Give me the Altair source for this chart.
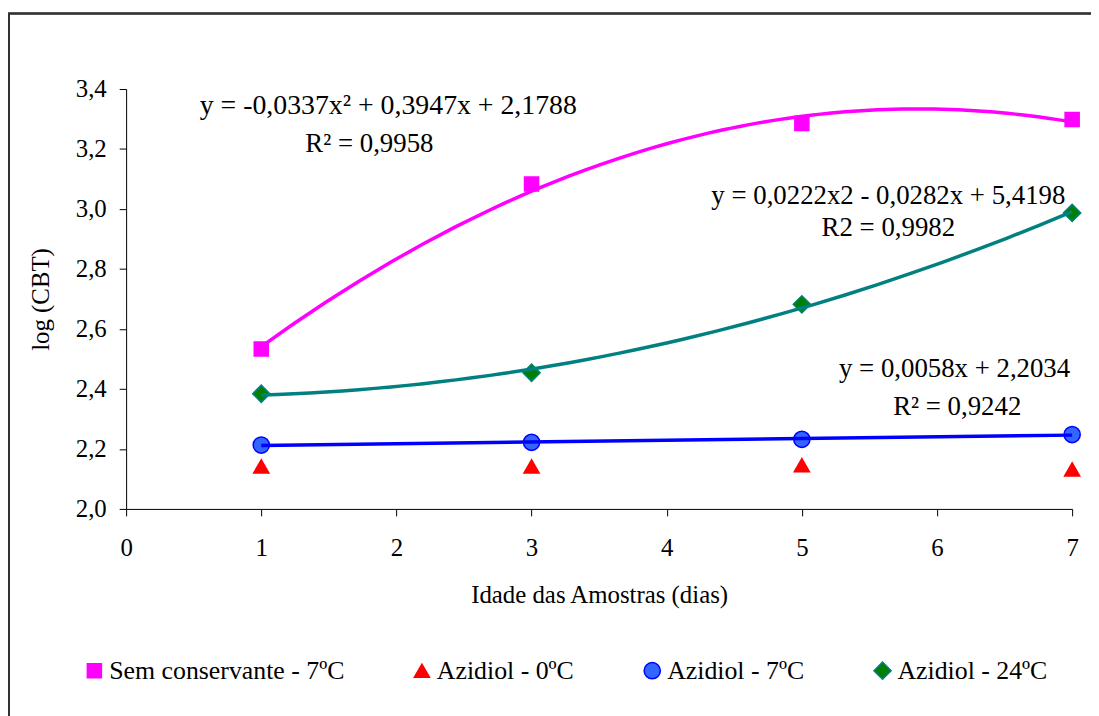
import altair as alt
import pandas as pd

# ---- data ----
dias = [1, 3, 5, 7]
series_names = ["Sem conservante - 7ºC", "Azidiol - 0ºC", "Azidiol - 7ºC", "Azidiol - 24ºC"]
sem_conservante_7 = [2.533, 3.083, 3.285, 3.298]
azidiol_0 = [2.142, 2.142, 2.146, 2.132]
azidiol_7 = [2.213, 2.222, 2.232, 2.248]
azidiol_24 = [2.384, 2.454, 2.682, 2.987]

fills = ["#FF00FF", "#FF0000", "#3366FF", "#008000"]
strokes = ["#FF00FF", "#FF0000", "#0000FF", "#008080"]
shapes = ["square", "triangle-up", "circle", "diamond"]
sizes = [200, 300, 290, 270]

# equation labels (data coords)
ann_text = ["y = -0,0337x² + 0,3947x + 2,1788", "R² = 0,9958",
            "y = 0,0222x2 - 0,0282x + 5,4198", "R2 = 0,9982",
            "y = 0,0058x + 2,2034", "R² = 0,9242"]
ann_x = [1.94, 1.80, 5.64, 5.64, 6.13, 6.15]
ann_y = [3.344, 3.215, 3.043, 2.937, 2.467, 2.341]
ann_size = [28, 27, 27, 27, 27, 27]

y_ticks = [2.0, 2.2, 2.4, 2.6, 2.8, 3.0, 3.2, 3.4]
x_ticks = [0, 1, 2, 3, 4, 5, 6, 7]

rows = []
for name, vals in zip(series_names, [sem_conservante_7, azidiol_0, azidiol_7, azidiol_24]):
    for d, v in zip(dias, vals):
        rows.append({"serie": name, "dia": d, "log": v})
df = pd.DataFrame(rows)
ann = pd.DataFrame({"t": ann_text, "x": ann_x, "y": ann_y, "fs": ann_size})

FONT = "Liberation Serif"
FS = 25
W, H = 953, 423

xscale = alt.Scale(domain=[0, 7], nice=False)
yscale = alt.Scale(domain=[2.0, 3.4], nice=False, zero=False)

xaxis = alt.Axis(values=x_ticks, format="d", title="Idade das Amostras (dias)",
                 grid=False, tickSize=7, labelPadding=20, titlePadding=22,
                 domainColor="black", tickColor="black", labelFlush=False)
yaxis = alt.Axis(values=y_ticks, title="log (CBT)",
                 labelExpr="replace(format(datum.value, '.1f'), '.', ',')",
                 grid=False, tickSize=7, labelPadding=13, titlePadding=22,
                 domainColor="black", tickColor="black")

leg = alt.Legend(orient="none", legendX=-45, legendY=573, direction="horizontal",
                 columnPadding=65, labelOffset=2,
                 symbolStrokeWidth=1.5, labelFont=FONT,
                 labelFontSize=26, labelColor="black", labelLimit=400)

base = alt.Chart(df)

points = base.mark_point(filled=True, strokeWidth=1.5, opacity=1).encode(
    x=alt.X("dia:Q", scale=xscale, axis=xaxis),
    y=alt.Y("log:Q", scale=yscale, axis=yaxis),
    fill=alt.Fill("serie:N", scale=alt.Scale(domain=series_names, range=fills), legend=leg, title=""),
    stroke=alt.Stroke("serie:N", scale=alt.Scale(domain=series_names, range=strokes), legend=leg, title=""),
    shape=alt.Shape("serie:N", scale=alt.Scale(domain=series_names, range=shapes), legend=leg, title=""),
    size=alt.Size("serie:N", scale=alt.Scale(domain=series_names, range=sizes), legend=leg, title=""),
)

def trend(name, color, method, order=None):
    kw = {"method": method}
    if order:
        kw["order"] = order
    return base.transform_filter(alt.datum.serie == name).transform_regression(
        "dia", "log", **kw
    ).mark_line(color=color, strokeWidth=3.5).encode(
        x=alt.X("dia:Q", scale=xscale),
        y=alt.Y("log:Q", scale=yscale),
    )

t1 = trend(series_names[0], "#FF00FF", "poly", 2)
t3 = trend(series_names[2], "#0000FF", "linear")
t4 = trend(series_names[3], "#008080", "poly", 2)

texts = alt.Chart(ann).mark_text(font=FONT, color="black",
                                 align="center", baseline="middle").encode(
    x=alt.X("x:Q", scale=xscale), y=alt.Y("y:Q", scale=yscale), text="t:N",
    size=alt.Size("fs:Q", scale=None, legend=None))

border = alt.Chart(ann).mark_rect(fill=None, stroke="#333333", strokeWidth=1.5).encode(
    x=alt.value(-118), x2=alt.value(W + 200), y=alt.value(-76), y2=alt.value(H + 400))

chart = alt.layer(border, points, t1, t3, t4, texts).properties(
    width=W, height=H, background="white",
    autosize=alt.AutoSizeParams(type="none"),
    padding={"left": 119, "top": 79, "right": 19, "bottom": 206},
).configure_view(stroke=None).configure_axis(
    labelFont=FONT, titleFont=FONT, labelFontSize=FS, titleFontSize=FS,
    labelColor="black", titleColor="black", titleFontWeight="normal"
).configure_legend(labelFont=FONT, labelFontSize=26, labelColor="black")

chart.save("out.html", embed_options={"renderer": "svg", "actions": False})
